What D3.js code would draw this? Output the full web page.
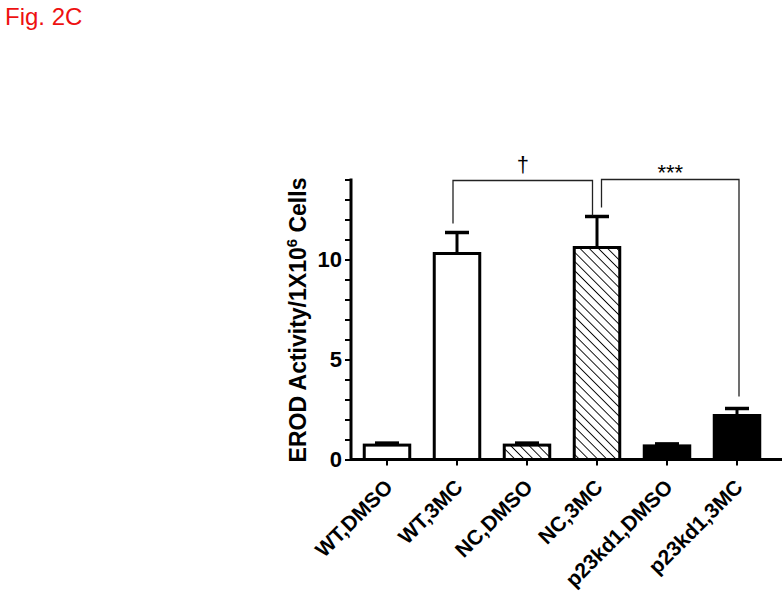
<!DOCTYPE html>
<html>
<head>
<meta charset="utf-8">
<script src="https://cdn.jsdelivr.net/npm/d3@7"></script>
<style>
body { margin:0; background:#fff; }
svg { display:block; font-family: Arial, "Liberation Sans", sans-serif; }
</style>
</head>
<body>
<svg id="chart" width="782" height="599"></svg>
<script>
var categories = ["WT,DMSO", "WT,3MC", "NC,DMSO", "NC,3MC", "p23kd1,DMSO", "p23kd1,3MC"];
var means = [0.72, 10.3, 0.72, 10.6, 0.68, 2.2];
var sems = [0.1, 1.05, 0.1, 1.55, 0.1, 0.35];
var yTicks = [0, 5, 10];
var yMinor = [0, 1, 2, 3, 4, 5, 6, 7, 8, 9, 10, 11, 12, 13, 14];
var comparisons = [
	{from: 1, to: 3, label: "\u2020"},
	{from: 3, to: 5, label: "***"}
];

var svg = d3.select("#chart");

// pattern for the NC bars
var defs = svg.append("defs");
var pat = defs.append("pattern")
	.attr("id", "hatch")
	.attr("patternUnits", "userSpaceOnUse")
	.attr("width", 6.5)
	.attr("height", 6.5)
	.attr("patternTransform", "rotate(-45)");
pat.append("rect").attr("width", 6.5).attr("height", 6.5).attr("fill", "#fff");
pat.append("line")
	.attr("x1", 0).attr("y1", 0).attr("x2", 0).attr("y2", 6.5)
	.attr("stroke", "#000").attr("stroke-width", 1.8);

function fillFor(cat) {
	if (cat.indexOf("WT") === 0) return "#fff";
	if (cat.indexOf("NC") === 0) return "url(#hatch)";
	return "#000";
}

var x = d3.scaleBand()
	.domain(categories)
	.range([352, 772])
	.paddingInner(0.35)
	.paddingOuter(0.175);

var y = d3.scaleLinear()
	.domain([0, 14])
	.range([459.5, 179.5]);

svg.append("text")
	.attr("x", 5)
	.attr("y", 25)
	.attr("fill", "#ee1111")
	.style("font-size", "24px")
	.text("Fig. 2C");

// bars
svg.selectAll(".bar")
	.data(categories)
	.enter().append("rect")
	.attr("class", "bar")
	.attr("x", function(d) { return x(d); })
	.attr("y", function(d, i) { return y(means[i]); })
	.attr("width", x.bandwidth())
	.attr("height", function(d, i) { return y(0) - y(means[i]); })
	.attr("fill", function(d) { return fillFor(d); })
	.attr("stroke", "#000")
	.attr("stroke-width", 3);

// error bars
var errG = svg.append("g");
categories.forEach(function(c, i) {
	var cx = x(c) + x.bandwidth() / 2;
	errG.append("line")
		.attr("x1", cx).attr("x2", cx)
		.attr("y1", y(means[i])).attr("y2", y(means[i] + sems[i]))
		.attr("stroke", "#000").attr("stroke-width", 3);
	errG.append("line")
		.attr("x1", cx - 12).attr("x2", cx + 12)
		.attr("y1", y(means[i] + sems[i])).attr("y2", y(means[i] + sems[i]))
		.attr("stroke", "#000").attr("stroke-width", 3.5);
});

// y axis
var yAxisMinor = d3.axisLeft(y).tickValues(yMinor).tickSize(6).tickFormat("");
svg.append("g")
	.attr("transform", "translate(351,0)")
	.call(yAxisMinor)
	.call(function(g) {
		g.select(".domain").attr("stroke-width", 3).attr("d", "M0," + (y(14) - 1) + "V" + (y(0) + 1.5));
		g.selectAll(".tick line").attr("stroke-width", 2);
	});

var yAxis = d3.axisLeft(y).tickValues(yTicks).tickSize(6).tickPadding(3);
svg.append("g")
	.attr("transform", "translate(351,0)")
	.call(yAxis)
	.call(function(g) {
		g.select(".domain").remove();
		g.selectAll(".tick line").attr("stroke-width", 2);
		g.selectAll(".tick text")
			.style("font-size", "22px")
			.style("font-weight", "bold")
			.attr("fill", "#000");
	});

// x axis
var xAxis = d3.axisBottom(x).tickSize(6).tickSizeOuter(0);
svg.append("g")
	.attr("transform", "translate(0," + y(0) + ")")
	.call(xAxis)
	.call(function(g) {
		g.select(".domain").attr("stroke-width", 3).attr("d", "M350,0H782");
		g.selectAll(".tick line").attr("stroke-width", 2);
		g.selectAll(".tick text")
			.style("font-size", "21px")
			.style("font-weight", "bold")
			.attr("fill", "#000")
			.attr("text-anchor", "end")
			.attr("x", 0)
			.attr("y", 0)
			.attr("dy", 0)
			.attr("transform", "translate(7,29) rotate(-45)");
	});

// y label
var yl = svg.append("text")
	.attr("transform", "translate(306,320) rotate(-90)")
	.attr("text-anchor", "middle")
	.style("font-size", "23px")
	.style("font-weight", "bold");
yl.append("tspan").text("EROD Activity/1X10");
yl.append("tspan").attr("dy", -9).style("font-size", "15px").text("6");
yl.append("tspan").attr("dy", 9).text(" Cells");

// significance brackets
var brG = svg.append("g");
comparisons.forEach(function(c, k) {
	var x1 = x(categories[c.from]) + x.bandwidth() / 2 + (k === 0 ? -4 : 4.5);
	var x2 = x(categories[c.to]) + x.bandwidth() / 2 + (k === 0 ? -4.5 : 2);
	var yTop = y(14) + (k === 0 ? 1 : 0);
	var yL = y(means[c.from] + sems[c.from]) - 9;
	var yR = y(means[c.to] + sems[c.to]) - (k === 0 ? 1 : 12);
	brG.append("path")
		.attr("d", "M" + x1 + "," + yL + "V" + yTop + "H" + x2 + "V" + yR)
		.attr("fill", "none")
		.attr("stroke", "#222")
		.attr("stroke-width", 1.3);
	brG.append("text")
		.attr("x", (x1 + x2) / 2)
		.attr("y", k === 0 ? 172 : 180)
		.attr("text-anchor", "middle")
		.attr("fill", "#000")
		.style("font-size", k === 0 ? "22px" : "22px")
		.text(c.label);
});
</script>
</body>
</html>
